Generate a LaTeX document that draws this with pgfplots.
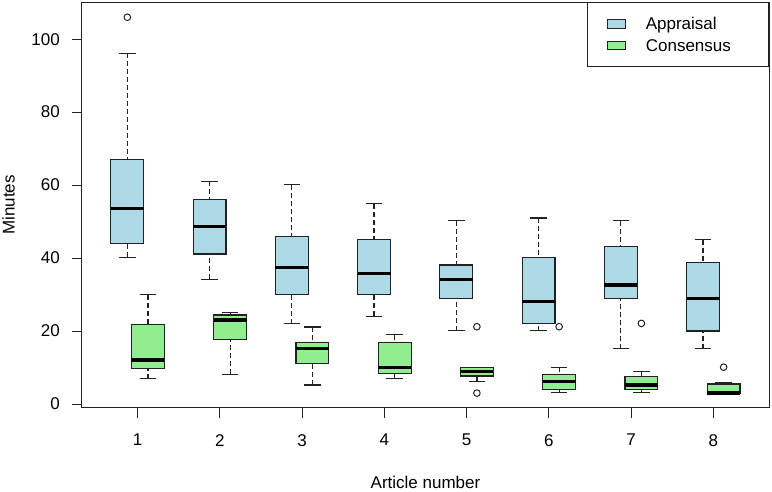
\documentclass[border=0pt]{standalone}
\usepackage{fontspec}
\setmainfont{Liberation Sans}
\usepackage{pgfplots}
\pgfplotsset{compat=1.18}
\usepgfplotslibrary{statistics}
\definecolor{appr}{HTML}{ADD8E6}
\definecolor{cons}{HTML}{90EE90}
\definecolor{edge}{HTML}{222222}
\newcommand{\fs}{\fontsize{17}{20}\selectfont}
\begin{document}
\begin{tikzpicture}
\begin{axis}[
  at={(81.7pt,83.3pt)}, anchor=south west,
  scale only axis, width=687.6pt, height=405.4pt,
  xmin=0.32, xmax=8.68, ymin=-1.0, ymax=110.1,
  xtick={1,2,3,4,5,6,7,8}, ytick={0,20,40,60,80,100},
  tick pos=left, tick align=outside, major tick length=10pt,
  tick style={draw=edge, line width=0.9pt},
  axis line style={draw=edge, line width=0.9pt},
  /pgf/number format/assume math mode=true,
  xticklabel style={font=\fs, inner sep=0pt, anchor=north, yshift=-16.3pt},
  yticklabel style={font=\fs, inner sep=0pt, anchor=east, xshift=-11.7pt},
  xlabel={Article number}, ylabel={Minutes},
  every axis x label/.style={at={(axis description cs:0.5,-0.16946)}, anchor=north, inner sep=0pt, font=\fs},
  every axis y label/.style={at={(axis description cs:-0.0970,0.5)}, rotate=90, anchor=south, inner sep=0pt, font=\fs},
  unbounded coords=jump,
  boxplot/draw direction=y,
  boxplot/box extend=0.4,
  boxplot/whisker extend=0.2,
  boxplot/every whisker/.style={draw=none},
  boxplot/every median/.style={draw=black, line width=3.3pt, solid},
  A/.style={forget plot, boxplot/every box/.style={draw=edge, line width=1.2pt, fill=appr, solid}},
  C/.style={forget plot, boxplot/every box/.style={draw=edge, line width=1.2pt, fill=cons, solid}},
  stem/.style={forget plot, draw=edge, line width=1.2pt, dash pattern=on 5pt off 3pt, mark=none},
  cap/.style={forget plot, draw=edge, line width=1.2pt, solid, mark=none},
  legend style={at={(1,1)}, anchor=north east, draw=edge, line width=0.9pt, fill=white,
    inner xsep=0pt, inner ysep=15pt, row sep=9.5pt, column sep=0pt, font=\fs,
    cells={anchor=west},
    nodes={inner sep=0pt, text height=12.2pt, text depth=0pt, text width=123pt, align=left}},
  legend cell align=left,
]
% Whisker stems (from whisker end to box)
\addplot[stem] coordinates {
  (0.875,40.2)(0.875,44.1)(0.875,nan) (0.875,96.1)(0.875,67.0)(0.875,nan)
  (1.875,34.2)(1.875,41.1)(1.875,nan) (1.875,61.0)(1.875,56.1)(1.875,nan)
  (2.875,22.0)(2.875,30.0)(2.875,nan) (2.875,60.1)(2.875,46.0)(2.875,nan)
  (3.875,24.1)(3.875,30.0)(3.875,nan) (3.875,54.9)(3.875,45.0)(3.875,nan)
  (4.875,20.1)(4.875,29.0)(4.875,nan) (4.875,50.2)(4.875,38.1)(4.875,nan)
  (5.875,20.1)(5.875,22.0)(5.875,nan) (5.875,51.0)(5.875,40.1)(5.875,nan)
  (6.875,15.2)(6.875,29.0)(6.875,nan) (6.875,50.2)(6.875,43.2)(6.875,nan)
  (7.875,15.2)(7.875,20.0)(7.875,nan) (7.875,45.0)(7.875,38.9)(7.875,nan)
  (1.125,7.0)(1.125,9.8)(1.125,nan) (1.125,30.0)(1.125,21.9)(1.125,nan)
  (2.125,8.2)(2.125,17.6)(2.125,nan) (2.125,25.0)(2.125,24.4)(2.125,nan)
  (3.125,5.2)(3.125,11.2)(3.125,nan) (3.125,21.1)(3.125,16.9)(3.125,nan)
  (4.125,7.0)(4.125,8.4)(4.125,nan) (4.125,19.0)(4.125,16.9)(4.125,nan)
  (5.125,6.1)(5.125,7.7)(5.125,nan)
  (6.125,3.1)(6.125,4.0)(6.125,nan) (6.125,10.1)(6.125,8.2)(6.125,nan)
  (7.125,3.1)(7.125,4.0)(7.125,nan) (7.125,9.0)(7.125,7.6)(7.125,nan)
  (8.125,6.0)(8.125,5.5)
};
% Whisker caps
\addplot[cap] coordinates {
  (0.775,40.2)(0.975,40.2)(0.875,nan) (0.775,96.1)(0.975,96.1)(0.875,nan)
  (1.775,34.2)(1.975,34.2)(1.875,nan) (1.775,61.0)(1.975,61.0)(1.875,nan)
  (2.775,22.0)(2.975,22.0)(2.875,nan) (2.775,60.1)(2.975,60.1)(2.875,nan)
  (3.775,24.1)(3.975,24.1)(3.875,nan) (3.775,54.9)(3.975,54.9)(3.875,nan)
  (4.775,20.1)(4.975,20.1)(4.875,nan) (4.775,50.2)(4.975,50.2)(4.875,nan)
  (5.775,20.1)(5.975,20.1)(5.875,nan) (5.775,51.0)(5.975,51.0)(5.875,nan)
  (6.775,15.2)(6.975,15.2)(6.875,nan) (6.775,50.2)(6.975,50.2)(6.875,nan)
  (7.775,15.2)(7.975,15.2)(7.875,nan) (7.775,45.0)(7.975,45.0)(7.875,nan)
  (1.025,7.0)(1.225,7.0)(1.125,nan) (1.025,30.0)(1.225,30.0)(1.125,nan)
  (2.025,8.2)(2.225,8.2)(2.125,nan) (2.025,25.0)(2.225,25.0)(2.125,nan)
  (3.025,5.2)(3.225,5.2)(3.125,nan) (3.025,21.1)(3.225,21.1)(3.125,nan)
  (4.025,7.0)(4.225,7.0)(4.125,nan) (4.025,19.0)(4.225,19.0)(4.125,nan)
  (5.025,6.1)(5.225,6.1)(5.125,nan) (5.025,10.1)(5.225,10.1)(5.125,nan)
  (6.025,3.1)(6.225,3.1)(6.125,nan) (6.025,10.1)(6.225,10.1)(6.125,nan)
  (7.025,3.1)(7.225,3.1)(7.125,nan) (7.025,9.0)(7.225,9.0)(7.125,nan)
  (8.025,3.0)(8.225,3.0)(8.125,nan) (8.025,6.0)(8.225,6.0)
};
% Appraisal boxes
\addplot[A, boxplot prepared={draw position=0.875, lower whisker=40.2, lower quartile=44.1, median=53.5, upper quartile=67.0, upper whisker=96.1}] coordinates {};
\addplot[A, boxplot prepared={draw position=1.875, lower whisker=34.2, lower quartile=41.1, median=48.6, upper quartile=56.1, upper whisker=61.0}] coordinates {};
\addplot[A, boxplot prepared={draw position=2.875, lower whisker=22.0, lower quartile=30.0, median=37.5, upper quartile=46.0, upper whisker=60.1}] coordinates {};
\addplot[A, boxplot prepared={draw position=3.875, lower whisker=24.1, lower quartile=30.0, median=35.7, upper quartile=45.0, upper whisker=54.9}] coordinates {};
\addplot[A, boxplot prepared={draw position=4.875, lower whisker=20.1, lower quartile=29.0, median=34.2, upper quartile=38.1, upper whisker=50.2}] coordinates {};
\addplot[A, boxplot prepared={draw position=5.875, lower whisker=20.1, lower quartile=22.0, median=28.2, upper quartile=40.1, upper whisker=51.0}] coordinates {};
\addplot[A, boxplot prepared={draw position=6.875, lower whisker=15.2, lower quartile=29.0, median=32.6, upper quartile=43.2, upper whisker=50.2}] coordinates {};
\addplot[A, boxplot prepared={draw position=7.875, lower whisker=15.2, lower quartile=20.0, median=29.0, upper quartile=38.9, upper whisker=45.0}] coordinates {};
% Consensus boxes
\addplot[C, boxplot prepared={draw position=1.125, lower whisker=7.0, lower quartile=9.8, median=12.1, upper quartile=21.9, upper whisker=30.0}] coordinates {};
\addplot[C, boxplot prepared={draw position=2.125, lower whisker=8.2, lower quartile=17.6, median=23.0, upper quartile=24.4, upper whisker=25.0}] coordinates {};
\addplot[C, boxplot prepared={draw position=3.125, lower whisker=5.2, lower quartile=11.2, median=15.2, upper quartile=16.9, upper whisker=21.1}] coordinates {};
\addplot[C, boxplot prepared={draw position=4.125, lower whisker=7.0, lower quartile=8.4, median=10.1, upper quartile=16.9, upper whisker=19.0}] coordinates {};
\addplot[C, boxplot prepared={draw position=5.125, lower whisker=6.1, lower quartile=7.7, median=8.9, upper quartile=10.1, upper whisker=10.1}] coordinates {};
\addplot[C, boxplot prepared={draw position=6.125, lower whisker=3.1, lower quartile=4.0, median=6.1, upper quartile=8.2, upper whisker=10.1}] coordinates {};
\addplot[C, boxplot prepared={draw position=7.125, lower whisker=3.1, lower quartile=4.0, median=5.2, upper quartile=7.6, upper whisker=9.0}] coordinates {};
\addplot[C, boxplot prepared={draw position=8.125, lower whisker=3.0, lower quartile=3.0, median=3.0, upper quartile=5.5, upper whisker=6.0}] coordinates {};
% Outliers
\addplot[forget plot, only marks, mark=o, mark size=3.3pt, mark options={draw=edge, line width=1pt, solid}]
  coordinates {(0.875,106) (5.125,21.2) (5.125,3.0) (6.125,21.2) (7.125,22.1) (8.125,10.1)};
% Legend
\addlegendimage{legend image code/.code={\path (0pt,0pt) (57.5pt,0pt); \draw[draw=edge, line width=1pt, fill=appr, solid] (20pt,-4.2pt) rectangle (37.5pt,4.2pt);}}
\addlegendentry{Appraisal}
\addlegendimage{legend image code/.code={\path (0pt,0pt) (57.5pt,0pt); \draw[draw=edge, line width=1pt, fill=cons, solid] (20pt,-4.2pt) rectangle (37.5pt,4.2pt);}}
\addlegendentry{Consensus}
\end{axis}
\pgfresetboundingbox
\path[use as bounding box] (0,0) rectangle (772pt,491pt);
\end{tikzpicture}
\end{document}
